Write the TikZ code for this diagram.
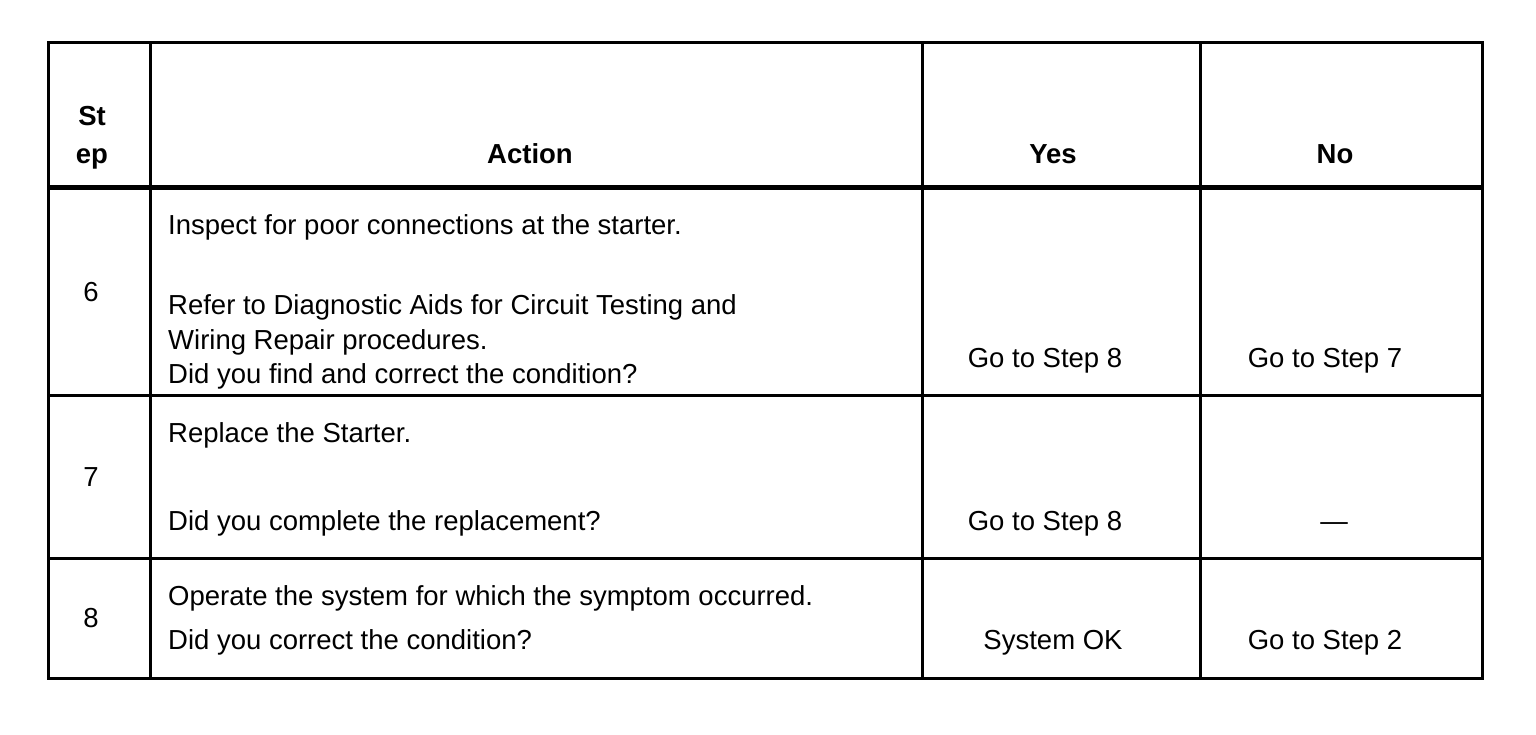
\documentclass[tikz,border=0pt]{standalone}
\usepackage{fontspec}
\setmainfont{Liberation Sans}
\usetikzlibrary{positioning}
\tikzset{
cell/.style={
  inner sep=0pt,
  font=\fontsize{27.5}{34.5}\selectfont
  },
celltxt/.style={
  cell,
  anchor=base west
  },
cellmid/.style={
  cell,
  anchor=base
  },
headtxt/.style={
  cellmid,
  font=\fontsize{27.5}{34.5}\selectfont\bfseries
  },
gridrule/.style={line width=3pt},
headrule/.style={line width=5pt}
}

\begin{document}
\begin{tikzpicture}[x=1pt,y=-1pt]
    \useasboundingbox (0,0) rectangle (1536,734);
    % table frame and rules
    \draw[gridrule] (48,42) rectangle (1482,678);
    \foreach \x in {150,922,1200}
        \draw[gridrule] (\x,42) -- (\x,678);
    \foreach \y in {395,558}
        \draw[gridrule] (48,\y) -- (1482,\y);
    \draw[headrule] (48,187) -- (1482,187);
    % header
    \node[headtxt] (hdst) at (92,125) {St};
    \node[headtxt] (hdep) at (92,163) {ep};
    \node[headtxt] (hdaction) at (530,163) {Action};
    \node[headtxt] (hdyes) at (1053,163) {Yes};
    \node[headtxt] (hdno) at (1335,163) {No};
    % step 6
    \node[cellmid] (stepsix) at (91,301) {6};
    \node[celltxt] (actsixa) at (168,234) {Inspect for poor connections at the starter.};
    \node[celltxt] (actsixb) at (168,314) {Refer to Diagnostic Aids for Circuit Testing and};
    \node[celltxt] (actsixc) at (168,349) {Wiring Repair procedures.};
    \node[celltxt] (actsixd) at (168,383) {Did you find and correct the condition?};
    \node[cellmid] (yessix) at (1045,367) {Go to Step 8};
    \node[cellmid] (nosix) at (1325,367) {Go to Step 7};
    % step 7
    \node[cellmid] (stepseven) at (91,486) {7};
    \node[celltxt] (actsevena) at (168,442) {Replace the Starter.};
    \node[celltxt] (actsevenb) at (168,530) {Did you complete the replacement?};
    \node[cellmid] (yesseven) at (1045,530) {Go to Step 8};
    \node[cellmid] (noseven) at (1334,530) {---};
    % step 8
    \node[cellmid] (stepeight) at (91,627) {8};
    \node[celltxt] (acteighta) at (168,605) {Operate the system for which the symptom occurred.};
    \node[celltxt] (acteightb) at (168,649) {Did you correct the condition?};
    \node[cellmid] (yeseight) at (1053,649) {System OK};
    \node[cellmid] (noeight) at (1325,649) {Go to Step 2};
\end{tikzpicture}
\end{document}
